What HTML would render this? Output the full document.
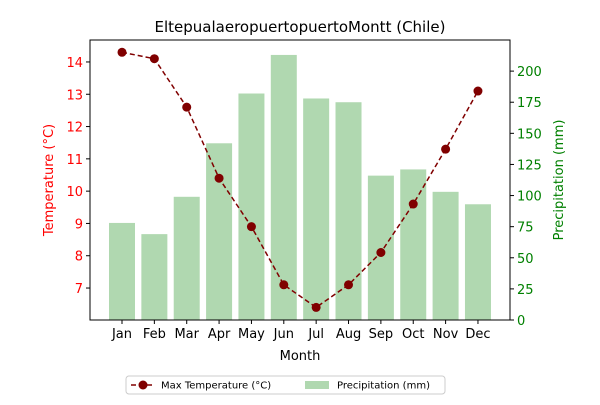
<!DOCTYPE html>
<html><head><meta charset="utf-8"><style>
body{margin:0;background:#fff;font-family:"Liberation Sans","DejaVu Sans",sans-serif}
svg text{font-family:"DejaVu Sans","Liberation Sans",sans-serif}
</style></head><body>
<svg id="chart" width="600" height="400"></svg>
<script>
const months=["Jan","Feb","Mar","Apr","May","Jun","Jul","Aug","Sep","Oct","Nov","Dec"];
const maxTemp=[14.3,14.1,12.6,10.4,8.9,7.1,6.4,7.1,8.1,9.6,11.3,13.1];
const precip=[78,69,99,142,182,213,178,175,116,121,103,93];
const tempTicks=[7,8,9,10,11,12,13,14];
const precipTicks=[0,25,50,75,100,125,150,175,200];
const NS="http://www.w3.org/2000/svg";
const svg=document.getElementById('chart');
const L=90,R=510,T=40,B=320;
const xS=i=>122+i*32.36;
const yT=v=>B-(v-6.01)*(B-T)/(14.68-6.01);
const yP=v=>B-v*(B-T)/225;
function mk(tag,attrs,parent){const e=document.createElementNS(NS,tag);for(const k in attrs)e.setAttribute(k,attrs[k]);(parent||svg).appendChild(e);return e;}
function txt(s,attrs){const e=mk('text',attrs);e.textContent=s;return e;}
const t=txt("EltepualaeropuertopuertoMontt (Chile)",{x:300,y:32,'text-anchor':'middle','font-size':15});

precip.forEach((v,i)=>{const r=mk('rect',{x:xS(i)-13,y:yP(v),width:26,height:B-yP(v),fill:'#b0d8b0'});

});
const pts=maxTemp.map((v,i)=>xS(i)+','+yT(v)).join(' ');
const ln=mk('polyline',{points:pts,fill:'none',stroke:'#800000','stroke-width':1.5,'stroke-dasharray':'5,3'});

maxTemp.forEach((v,i)=>{const c=mk('circle',{cx:xS(i),cy:yT(v),r:4.5,fill:'#800000'});

});
const fr=mk('rect',{x:L,y:T,width:R-L,height:B-T,fill:'none',stroke:'#000','stroke-width':1});

months.forEach((m,i)=>{mk('line',{x1:xS(i),x2:xS(i),y1:B,y2:B+4,stroke:'#000'});
const e=txt(m,{x:xS(i),y:B+18,'text-anchor':'middle','font-size':13});
});
tempTicks.forEach(v=>{mk('line',{x1:L-4,x2:L,y1:yT(v),y2:yT(v),stroke:'#000'});
const e=txt(v,{x:L-7,y:yT(v)+5,'text-anchor':'end','font-size':13,fill:'red'});
});
precipTicks.forEach(v=>{mk('line',{x1:R,x2:R+4,y1:yP(v),y2:yP(v),stroke:'#000'});
const e=txt(v,{x:R+7,y:yP(v)+5,'font-size':13,fill:'green'});
});
const xl=txt("Month",{x:300,y:360,'text-anchor':'middle','font-size':13});

const yl=txt("Temperature (°C)",{x:0,y:0,'text-anchor':'middle','font-size':13,fill:'red',transform:'translate(53,180) rotate(-90)'});

const yr=txt("Precipitation (mm)",{x:0,y:0,'text-anchor':'middle','font-size':13,fill:'green',transform:'translate(563,180) rotate(-90)'});

const lg=mk('g',{});
mk('rect',{x:126,y:376,width:319,height:18,fill:'#fff',stroke:'#ccc',rx:3},lg);
mk('line',{x1:131,x2:155,y1:385,y2:385,stroke:'#800000','stroke-width':1.5,'stroke-dasharray':'5,3'},lg);
mk('circle',{cx:143,cy:385,r:4.5,fill:'#800000'},lg);
const l1=mk('text',{x:161,y:388.5,'font-size':10},lg);l1.textContent="Max Temperature (°C)";
mk('rect',{x:305,y:381,width:24,height:8,fill:'#b0d8b0'},lg);
const l2=mk('text',{x:337,y:388.5,'font-size':10},lg);l2.textContent="Precipitation (mm)";
</script>
</body></html>
